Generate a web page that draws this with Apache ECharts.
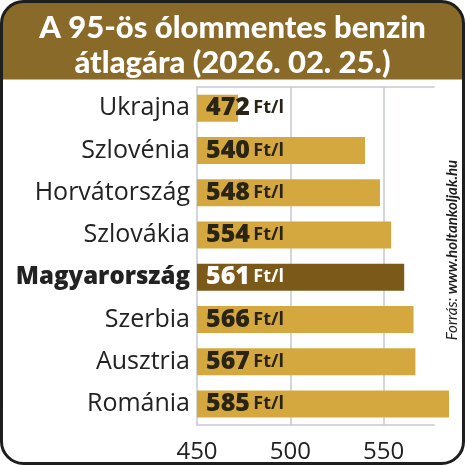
<!DOCTYPE html>
<html><head><meta charset="utf-8">
<script src="https://cdn.jsdelivr.net/npm/echarts@6/dist/echarts.min.js"></script>
<style>html,body{margin:0;padding:0;background:#fff;}#c{width:465px;height:465px;}</style>
</head><body><div id="c"></div>
<script>
const categories = ['Ukrajna','Szlovénia','Horvátország','Szlovákia','Magyarország','Szerbia','Ausztria','Románia'];
const prices = [472, 540, 548, 554, 561, 566, 567, 585];
const highlight = 'Magyarország';
const xTicks = [450, 500, 550];
const unit = 'Ft/l';
const titleText = 'A 95-ös ólommentes benzin\nátlagára (2026. 02. 25.)';
const sourceLabel = 'Forrás:';
const sourceUrl = 'www.holtankoljak.hu';

const FONT = 'Lato';
const FONT2 = 'Open Sans';
const GOLD = '#d4a83e';
const DARK = '#7b5a19';
const BAND = '#8a6a28';
const GRIDC = '#c6c8d3';

// px per unit shared by both grids
const LEFT = 197, PPU = 1.8667;
const barMax = 586, axisMax = 577;
const rightBars = 465 - LEFT - (barMax - xTicks[0]) * PPU;
const rightAxis = 465 - LEFT - (axisMax - xTicks[0]) * PPU;

const chart = echarts.init(document.getElementById('c'), null, {renderer: 'canvas'});
chart.setOption({
  backgroundColor: '#fff',
  animation: false,
  title: {
    text: titleText,
    left: 'center', top: 5,
    textStyle: {color: '#fff', fontFamily: FONT, fontWeight: 900, fontSize: 31, lineHeight: 35}
  },
  graphic: [
    {type: 'rect', z: -1, shape: {x: 1.5, y: 1.5, width: 462, height: 78, r: [22, 22, 0, 0]}, style: {fill: BAND}},
    {type: 'rect', z: 100, shape: {x: 1.5, y: 1.5, width: 462, height: 462, r: 22}, style: {fill: 'none', stroke: '#1e1e1e', lineWidth: 3}},
    {type: 'text', z: 50, x: 452, y: 250, rotation: Math.PI / 2,
      style: {
        text: '{a|' + sourceLabel + ' }{b|' + sourceUrl + '}',
        align: 'center', verticalAlign: 'middle',
        rich: {
          a: {fontFamily: FONT, fontStyle: 'italic', fontSize: 15, fill: '#1e1e1e'},
          b: {fontFamily: FONT, fontStyle: 'italic', fontWeight: 'bold', fontSize: 15, fill: '#1e1e1e'}
        }
      }
    }
  ],
  grid: [
    {left: LEFT, right: rightBars, top: 87, bottom: 40},
    {left: LEFT, right: rightAxis, top: 87, bottom: 40}
  ],
  xAxis: [{
    gridIndex: 0, type: 'value', min: xTicks[0], max: barMax,
    axisLine: {show: false}, axisTick: {show: false}, splitLine: {show: false}, axisLabel: {show: false}
  }, {
    gridIndex: 1, type: 'value', position: 'bottom', min: xTicks[0], max: axisMax, interval: 50,
    axisLine: {show: true, lineStyle: {color: GRIDC, width: 1.5}},
    axisTick: {show: false},
    splitLine: {show: true, showMaxLine: false, lineStyle: {color: GRIDC, width: 1.5}},
    axisLabel: {showMaxLabel: false, margin: 15, fontFamily: FONT2, fontSize: 24, color: '#222',
      formatter: v => xTicks.includes(v) ? String(v) : ''}
  }, {
    gridIndex: 1, type: 'value', position: 'top', min: xTicks[0], max: axisMax, interval: 50,
    axisLine: {show: true, lineStyle: {color: GRIDC, width: 1.5}},
    axisTick: {show: false}, axisLabel: {show: false}, splitLine: {show: false}
  }],
  yAxis: [{
    gridIndex: 0, type: 'category', data: categories, inverse: true,
    axisLine: {show: false}, axisTick: {show: false},
    axisLabel: {
      margin: 7, fontFamily: FONT2, fontSize: 25, color: '#222',
      formatter: v => v === highlight ? '{b|' + v + '}' : v,
      rich: {b: {fontFamily: FONT2, fontSize: 24, fontWeight: 800, color: '#222'}}
    }
  }, {
    gridIndex: 1, type: 'category', data: categories, inverse: true, show: false
  }],
  series: [{
    type: 'bar', xAxisIndex: 0, yAxisIndex: 0, barWidth: 27,
    data: prices.map((p, i) => ({
      value: p,
      itemStyle: {color: categories[i] === highlight ? DARK : GOLD},
      label: {color: categories[i] === highlight ? '#fff' : '#2a2416'}
    })),
    label: {
      show: true, position: 'insideLeft', distance: 9,
      formatter: p => '{n|' + p.value + '} {u|' + unit + '}',
      rich: {
        n: {fontFamily: FONT2, fontWeight: 800, fontSize: 25},
        u: {fontFamily: FONT2, fontWeight: 700, fontSize: 18}
      }
    }
  }]
});
</script></body></html>
